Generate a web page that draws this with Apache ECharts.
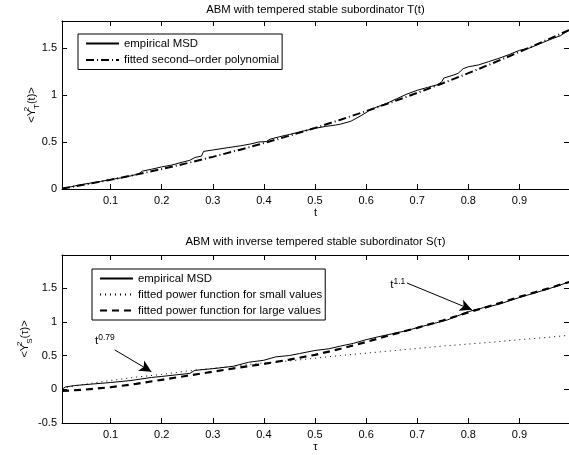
<!DOCTYPE html>
<html>
<head>
<meta charset="utf-8">
<script src="https://cdn.jsdelivr.net/npm/echarts@6/dist/echarts.min.js"></script>
<style>html,body{margin:0;padding:0;background:#fff}#c{width:569px;height:455px}</style>
</head>
<body>
<div id="c"></div>
<script>
// ---------- data ----------
const xTicks = [0.1, 0.2, 0.3, 0.4, 0.5, 0.6, 0.7, 0.8, 0.9];
const yTicksTop = [0, 0.5, 1, 1.5];
const yTicksBottom = [-0.5, 0, 0.5, 1, 1.5];

const titleTop = 'ABM with tempered stable subordinator T(t)';
const titleBottom = 'ABM with inverse tempered stable subordinator S(\u03c4)';

// top panel: empirical MSD
const topEmpT = [0.005,0.02,0.04,0.06,0.08,0.1,0.12,0.14,0.155,0.162,0.18,0.2,0.22,0.24,0.255,0.265,0.278,0.282,0.3,0.33,0.355,0.375,0.39,0.405,0.412,0.43,0.45,0.465,0.48,0.5,0.52,0.54,0.55,0.57,0.59,0.605,0.62,0.64,0.66,0.68,0.7,0.72,0.74,0.748,0.752,0.77,0.78,0.79,0.8,0.82,0.84,0.86,0.88,0.9,0.92,0.94,0.96,0.98,0.997];
const topEmpV = [0.0,0.02,0.045,0.062,0.08,0.1,0.118,0.14,0.16,0.19,0.21,0.235,0.255,0.285,0.305,0.335,0.35,0.40,0.415,0.44,0.46,0.48,0.50,0.505,0.53,0.555,0.58,0.60,0.62,0.645,0.665,0.68,0.69,0.72,0.78,0.83,0.87,0.91,0.96,1.01,1.05,1.08,1.11,1.14,1.18,1.21,1.23,1.28,1.30,1.32,1.355,1.39,1.43,1.475,1.50,1.545,1.59,1.63,1.69];
// top panel: fitted second-order polynomial
const topFitT = [0.005,0.05,0.1,0.15,0.2,0.25,0.3,0.35,0.4,0.45,0.5,0.55,0.6,0.65,0.7,0.75,0.8,0.85,0.9,0.95,0.997];
const topFitV = [0.005,0.047,0.098,0.153,0.212,0.275,0.342,0.413,0.488,0.567,0.65,0.737,0.828,0.923,1.022,1.125,1.232,1.343,1.458,1.577,1.69];

// bottom panel: empirical MSD
const botEmpT = [0.005,0.012,0.03,0.06,0.1,0.14,0.18,0.2,0.23,0.255,0.265,0.3,0.34,0.37,0.4,0.423,0.45,0.47,0.5,0.527,0.55,0.575,0.6,0.625,0.65,0.68,0.703,0.73,0.76,0.8,0.83,0.86,0.9,0.94,0.97,0.997];
const botEmpV = [0.0,0.035,0.055,0.075,0.10,0.13,0.175,0.19,0.215,0.235,0.28,0.305,0.34,0.40,0.43,0.48,0.50,0.53,0.575,0.60,0.64,0.68,0.735,0.78,0.82,0.87,0.92,0.97,1.03,1.15,1.21,1.26,1.36,1.45,1.52,1.59];
// bottom panel: fitted power function for small values
const botSmallT = [0.005,0.02,0.05,0.1,0.15,0.2,0.25,0.3,0.35,0.4,0.45,0.5,0.55,0.6,0.65,0.7,0.75,0.8,0.85,0.9,0.95,0.997];
const botSmallV = [0.013,0.037,0.075,0.13,0.18,0.22,0.27,0.31,0.35,0.39,0.42,0.46,0.50,0.535,0.57,0.605,0.64,0.67,0.70,0.735,0.765,0.80];
// bottom panel: fitted power function for large values
const botLargeT = [0.005,0.05,0.1,0.15,0.2,0.25,0.3,0.35,0.4,0.45,0.5,0.55,0.6,0.65,0.7,0.75,0.8,0.85,0.9,0.95,0.997];
const botLargeV = [-0.025,-0.005,0.03,0.08,0.14,0.20,0.26,0.32,0.375,0.44,0.51,0.60,0.70,0.81,0.91,1.02,1.14,1.25,1.37,1.48,1.59];

// annotations (data coordinates)
const arrowSmall = [[0.108, 0.584], [0.180, 0.261]];
const arrowLarge = [[0.680, 1.575], [0.807, 1.178]];
const labelSmallPos = [0.089, 0.733];
const labelLargePos = [0.662, 1.565];

// ---------- chart ----------
const zip = (a, b) => a.map((x, i) => [x, b[i]]);
const FONT = "'Liberation Sans', Arial, Helvetica, sans-serif";
const X_MIN = 0.005, X_MAX = 0.997;

function xAxisPair(gi, name, title, titleGap) {
  const common = {
    type: 'value', gridIndex: gi, min: X_MIN, max: X_MAX,
    axisLine: { show: true, onZero: false, lineStyle: { color: '#000', width: 1 } },
    splitLine: { show: false },
    axisTick: { show: true, inside: true, length: 5, customValues: xTicks, lineStyle: { color: '#000' } }
  };
  return [
    Object.assign({}, common, {
      position: 'bottom',
      axisLabel: { show: true, customValues: xTicks, color: '#000', fontSize: 11, margin: 6, fontFamily: FONT },
      name: name, nameLocation: 'middle', nameGap: 18, nameMoveOverlap: false,
      nameTextStyle: { color: '#000', fontSize: 11, fontFamily: FONT }
    }),
    Object.assign({}, common, {
      position: 'top',
      axisLabel: { show: false },
      name: title, nameLocation: 'middle', nameGap: titleGap, nameMoveOverlap: false,
      nameTextStyle: { color: '#000', fontSize: 11.3, fontFamily: FONT }
    })
  ];
}

function yAxisPair(gi, min, max, ticks, nameRich, gap) {
  const common = {
    type: 'value', gridIndex: gi, min: min, max: max,
    axisLine: { show: true, onZero: false, lineStyle: { color: '#000', width: 1 } },
    splitLine: { show: false },
    axisTick: { show: true, inside: true, length: 5, customValues: ticks, lineStyle: { color: '#000' } }
  };
  return [
    Object.assign({}, common, {
      position: 'left',
      axisLabel: { show: true, customValues: ticks, color: '#000', fontSize: 11, margin: 5, fontFamily: FONT },
      name: nameRich, nameLocation: 'middle', nameRotate: 90, nameGap: gap, nameMoveOverlap: false,
      nameTextStyle: {
        color: '#000', fontSize: 11, fontFamily: FONT,
        rich: {
          m: { fontSize: 11, fontFamily: FONT, color: '#000', lineHeight: 18, verticalAlign: 'middle' },
          p: { fontSize: 8, fontFamily: FONT, color: '#000', verticalAlign: 'top', width: 0.01, lineHeight: 8 },
          b: { fontSize: 8, fontFamily: FONT, color: '#000', verticalAlign: 'bottom', lineHeight: 8 }
        }
      }
    }),
    Object.assign({}, common, {
      position: 'right',
      axisLabel: { show: false }
    })
  ];
}

const richLabel = {
  a: { fontSize: 11.5, fontFamily: FONT, color: '#000', verticalAlign: 'bottom', lineHeight: 14 },
  s: { fontSize: 8.5, fontFamily: FONT, color: '#000', verticalAlign: 'top', lineHeight: 8 }
};

const legendCommon = {
  orient: 'vertical',
  itemWidth: 33, itemHeight: 12,
  padding: [4, 3, 4, 7],
  borderColor: '#000', borderWidth: 1, backgroundColor: '#fff',
  textStyle: { color: '#000', fontSize: 11.4, fontFamily: FONT },
  itemStyle: { opacity: 0 },
  selectedMode: false
};

const option = {
  animation: false,
  backgroundColor: '#fff',
  textStyle: { fontFamily: FONT },
  grid: [
    { left: 62, top: 21, width: 509, height: 168, show: false },
    { left: 62, top: 255, width: 509, height: 168, show: false }
  ],
  xAxis: [].concat(
    xAxisPair(0, 't', titleTop, 6),
    xAxisPair(1, '\u03c4', titleBottom, 8)
  ),
  yAxis: [].concat(
    yAxisPair(0, 0, 1.787, yTicksTop, '{m|<Y}{p|2}{b|T}{m|(t)>}', 21),
    yAxisPair(1, -0.5, 1.99, yTicksBottom, '{m|<Y}{p|2}{b|S}{m|(\u03c4)>}', 28)
  ),
  legend: [
    Object.assign({}, legendCommon, {
      left: 78, top: 34, itemGap: 5.5,
      data: ['empirical MSD', 'fitted second\u2013order polynomial']
    }),
    Object.assign({}, legendCommon, {
      left: 92, top: 269, itemGap: 5,
      data: ['empirical MSD', 'fitted power function for small values', 'fitted power function for large values']
    })
  ],
  series: [
    {
      name: 'empirical MSD', type: 'line', xAxisIndex: 0, yAxisIndex: 0,
      data: zip(topEmpT, topEmpV), symbol: 'none', showSymbol: false,
      lineStyle: { color: '#000', width: 1, type: 'solid' }, itemStyle: { color: '#000' }, z: 3
    },
    {
      name: 'fitted second\u2013order polynomial', type: 'line', xAxisIndex: 0, yAxisIndex: 0,
      data: zip(topFitT, topFitV), symbol: 'none', showSymbol: false,
      lineStyle: { color: '#000', width: 2, type: [8, 3, 1, 3] }, itemStyle: { color: '#000' }, z: 2
    },
    {
      name: 'empirical MSD', type: 'line', xAxisIndex: 2, yAxisIndex: 2,
      data: zip(botEmpT, botEmpV), symbol: 'none', showSymbol: false,
      lineStyle: { color: '#000', width: 1, type: 'solid' }, itemStyle: { color: '#000' }, z: 3,
      markLine: {
        silent: true, symbol: ['none', 'arrow'], symbolSize: [9, 12],
        label: { show: false },
        lineStyle: { color: '#000', width: 1, type: 'solid' },
        data: [
          [{ coord: arrowSmall[0] }, { coord: arrowSmall[1] }],
          [{ coord: arrowLarge[0] }, { coord: arrowLarge[1] }]
        ]
      },
      markPoint: {
        silent: true, symbol: 'circle', symbolSize: 1,
        itemStyle: { color: 'rgba(0,0,0,0)' },
        label: { show: true, position: 'inside', color: '#000', rich: richLabel },
        data: [
          { coord: labelSmallPos, label: { formatter: '{a|t}{s|0.79}' } },
          { coord: labelLargePos, label: { formatter: '{a|t}{s|1.1}' } }
        ]
      }
    },
    {
      name: 'fitted power function for small values', type: 'line', xAxisIndex: 2, yAxisIndex: 2,
      data: zip(botSmallT, botSmallV), symbol: 'none', showSymbol: false,
      lineStyle: { color: '#000', width: 1, type: [1, 4] }, itemStyle: { color: '#000' }, z: 2
    },
    {
      name: 'fitted power function for large values', type: 'line', xAxisIndex: 2, yAxisIndex: 2,
      data: zip(botLargeT, botLargeV), symbol: 'none', showSymbol: false,
      lineStyle: { color: '#000', width: 2.2, type: [7, 5] }, itemStyle: { color: '#000' }, z: 2
    }
  ]
};

const chart = echarts.init(document.getElementById('c'), null, { renderer: 'canvas', width: 569, height: 455 });
chart.setOption(option);
</script>
</body>
</html>
